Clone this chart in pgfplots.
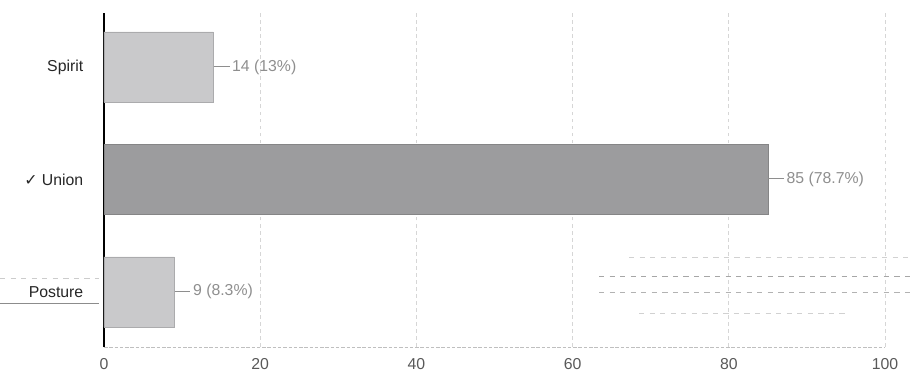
\documentclass[border=0pt]{standalone}
\usepackage{pgfplots}
\pgfplotsset{compat=1.18}
\usepackage{fontspec}
\setmainfont{Liberation Sans}
\newfontfamily\symfont{DejaVu Sans}
\definecolor{barlight}{HTML}{C9C9CB}
\definecolor{bardark}{HTML}{9C9C9E}
\definecolor{lbl}{HTML}{8E8E8E}

\begin{document}
\begin{tikzpicture}[x=1cm,y=1cm]
% page frame: 911 x 381 px at 0.02 cm per px, axis corner at (104,347) px
\path[use as bounding box] (-2.08,-0.68) rectangle (16.14,6.94);
\begin{axis}[
    xbar,
    scale only axis,
    width=15.62cm,
    height=6.68cm,
    bar width=1.4cm,
    xmin=0, xmax=100,
    ymin=-0.49, ymax=2.48,
    xtick={0,20,40,60,80,100},
    ytick={0,1,2},
    yticklabels={Posture,{{\symfont\small ✓} Union},Spirit},
    axis lines*=left,
    axis line style={-},
    y axis line style={black, line width=0.9pt},
    x axis line style={black!25, dash pattern=on 2pt off 1pt},
    xmajorgrids,
    major grid style={black!16, dash pattern=on 2pt off 2pt},
    tick style={draw=none},
    tick label style={font=\fontsize{9}{10}\selectfont},
    xticklabel style={text=black!65, yshift=-3pt},
    yticklabel style={text=black!85, xshift=-4pt},
    /pgf/number format/assume math mode=true,
    point meta=explicit symbolic,
    nodes near coords={\textcolor{lbl}{\rule[0.55ex]{9pt}{0.5pt}\,\pgfplotspointmeta}},
    nodes near coords style={font=\fontsize{9}{10}\selectfont, anchor=west, inner sep=0pt},
    clip=false,
]
\addplot+[draw=barlight!85!black, fill=barlight, bar shift=0pt] coordinates {
    (14,2) [14 (13\%)]
    (9,0)  [9 (8.3\%)]
};
\addplot+[draw=bardark!85!black, fill=bardark, bar shift=0pt] coordinates {
    (85,1) [85 (78.7\%)]
};
\end{axis}
% faint scan streaks
\draw[black!45, line width=0.4pt] (-2.08,0.88) -- (-0.1,0.88);
\draw[black!20, line width=0.4pt, dashed] (-2.08,1.38) -- (-0.1,1.38);
\draw[black!18, line width=0.4pt, dashed] (10.5,1.80) -- (16.14,1.80);
\draw[black!35, line width=0.4pt, dashed] (9.9,1.42) -- (16.14,1.42);
\draw[black!30, line width=0.4pt, dashed] (9.9,1.10) -- (16.14,1.10);
\draw[black!18, line width=0.4pt, dashed] (10.7,0.68) -- (14.9,0.68);
\end{tikzpicture}
\end{document}
